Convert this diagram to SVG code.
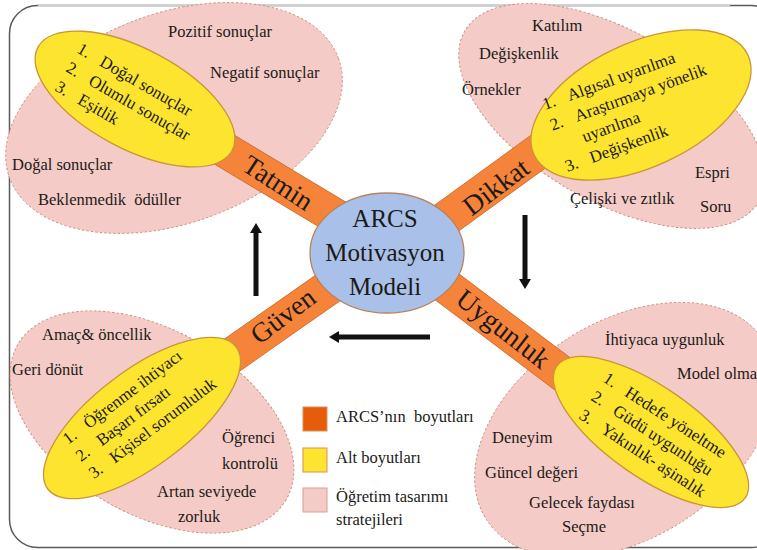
<svg xmlns="http://www.w3.org/2000/svg" width="757" height="550" viewBox="0 0 757 550">
<style>
text{font-family:"Liberation Serif","Times New Roman",serif;fill:#1c1a17}
.pink{fill:#f4cbc7;stroke:#c8907e;stroke-width:0.9;stroke-dasharray:2.5 2}
.yel{fill:#fde52f;stroke:#c99538;stroke-width:1.3}
.band{fill:#f5843a;stroke:#c86a2a;stroke-width:0.8}
.ctr{fill:#a9c1e9;stroke:#b9825e;stroke-width:1.3}
.pt{font-size:16.5px}
.yt{font-size:17px}
.bt{font-size:27.5px;text-anchor:middle}
.ct{font-size:25px;text-anchor:middle}
.lt{font-size:16.5px}
.arr{stroke:#111;stroke-width:5;fill:none}
</style>
<defs>
<marker id="ah" viewBox="0 0 10 12" refX="1" refY="6" markerWidth="10" markerHeight="12" markerUnits="userSpaceOnUse" orient="auto">
<path d="M0,0 L10,6 L0,12 z" fill="#111"/>
</marker>
</defs>
<rect x="9.5" y="5.5" width="770" height="542" rx="28" fill="#fff" stroke="#5a5a5a" stroke-width="1.5"/>
<line x1="38" y1="5.5" x2="730" y2="5.5" stroke="#cfcfcf" stroke-width="2"/>

<g id="tatmin">
<ellipse class="pink" cx="174" cy="118" rx="175" ry="105" transform="rotate(-20 174 118)"/>
<text class="pt" x="168" y="37">Pozitif sonuçlar</text>
<text class="pt" x="210" y="78">Negatif sonuçlar</text>
<text class="pt" x="12" y="170">Doğal sonuçlar</text>
<text class="pt" x="38" y="205" xml:space="preserve">Beklenmedik  ödüller</text>
<rect class="band" x="-100" y="-17.5" width="200" height="35" rx="10" transform="translate(280 183) rotate(31)"/>
<ellipse class="yel" cx="135" cy="99" rx="110" ry="50" transform="rotate(28 135 99)"/>
<g transform="translate(76 52) rotate(30)">
<text class="yt" x="0" y="0">1.</text><text class="yt" x="26" y="0">Doğal sonuçlar</text>
<text class="yt" x="0" y="22">2.</text><text class="yt" x="26" y="22">Olumlu sonuçlar</text>
<text class="yt" x="0" y="44">3.</text><text class="yt" x="26" y="44">Eşitlik</text>
</g>
<text class="bt" transform="translate(278 183) rotate(33)" y="9">Tatmin</text>
</g>

<g id="dikkat">
<ellipse class="pink" cx="612" cy="116" rx="170" ry="85" transform="rotate(30 612 116)"/>
<text class="pt" x="532" y="31">Katılım</text>
<text class="pt" x="479" y="59">Değişkenlik</text>
<text class="pt" x="462" y="95">Örnekler</text>
<text class="pt" x="695" y="178">Espri</text>
<text class="pt" x="570" y="204">Çelişki ve zıtlık</text>
<text class="pt" x="700" y="212">Soru</text>
<rect class="band" x="-100" y="-17.5" width="200" height="35" rx="10" transform="translate(495 183) rotate(-36)"/>
<ellipse class="yel" cx="641" cy="105" rx="118" ry="62" transform="rotate(-25 641 105)"/>
<g transform="translate(545 110) rotate(-20)">
<text class="yt" x="0" y="0">1.</text><text class="yt" x="26" y="0">Algısal uyarılma</text>
<text class="yt" x="0" y="22">2.</text><text class="yt" x="26" y="22">Araştırmaya yönelik</text>
<text class="yt" x="26" y="44">uyarılma</text>
<text class="yt" x="0" y="66">3.</text><text class="yt" x="26" y="66">Değişkenlik</text>
</g>
<text class="bt" transform="translate(496 187) rotate(-37)" y="9">Dikkat</text>
</g>

<g id="guven">
<ellipse class="pink" cx="152" cy="422" rx="155" ry="92" transform="rotate(30 152 422)"/>
<text class="pt" x="42" y="340">Amaç&amp; öncellik</text>
<text class="pt" x="12" y="375">Geri dönüt</text>
<text class="pt" x="222" y="443">Öğrenci</text>
<text class="pt" x="222" y="469">kontrolü</text>
<text class="pt" x="157" y="497">Artan seviyede</text>
<text class="pt" x="178" y="522">zorluk</text>
<rect class="band" x="-100" y="-17.5" width="200" height="35" rx="10" transform="translate(285 318) rotate(-35)"/>
<ellipse class="yel" cx="142" cy="418" rx="118" ry="48" transform="rotate(-37 142 418)"/>
<g transform="translate(68 445) rotate(-37)">
<text class="yt" x="0" y="0">1.</text><text class="yt" x="26" y="0">Öğrenme ihtiyacı</text>
<text class="yt" x="0" y="21.5">2.</text><text class="yt" x="26" y="21.5">Başarı fırsatı</text>
<text class="yt" x="0" y="43">3.</text><text class="yt" x="26" y="43">Kişisel sorumluluk</text>
</g>
<text class="bt" transform="translate(283 316) rotate(-37)" y="9">Güven</text>
</g>

<g id="uygunluk">
<ellipse class="pink" cx="625" cy="430" rx="165" ry="108" transform="rotate(-33 625 430)"/>
<text class="pt" x="605" y="345">İhtiyaca uygunluk</text>
<text class="pt" x="677" y="379">Model olma</text>
<text class="pt" x="492" y="443">Deneyim</text>
<text class="pt" x="485" y="478">Güncel değeri</text>
<text class="pt" x="529" y="508">Gelecek faydası</text>
<text class="pt" x="562" y="532">Seçme</text>
<rect class="band" x="-100" y="-17.5" width="200" height="35" rx="10" transform="translate(503 329) rotate(37)"/>
<ellipse class="yel" cx="651" cy="432" rx="115" ry="45" transform="rotate(35 651 432)"/>
<g transform="translate(602 381) rotate(33)">
<text class="yt" x="0" y="0">1.</text><text class="yt" x="26" y="0">Hedefe yöneltme</text>
<text class="yt" x="0" y="22">2.</text><text class="yt" x="26" y="22">Güdü uygunluğu</text>
<text class="yt" x="0" y="44">3.</text><text class="yt" x="26" y="44">Yakınlık- aşinalık</text>
</g>
<text class="bt" transform="translate(503 329) rotate(38)" y="9">Uygunluk</text>
</g>

<g id="arcs">
<ellipse class="ctr" cx="387" cy="253" rx="77" ry="60"/>
<text class="ct" x="385" y="227">ARCS</text>
<text class="ct" x="385" y="261">Motivasyon</text>
<text class="ct" x="385" y="295">Modeli</text>
</g>

<g id="connectors">
<line class="arr" x1="256" y1="296" x2="256" y2="232" marker-end="url(#ah)"/>
<line class="arr" x1="525" y1="215" x2="525" y2="280" marker-end="url(#ah)"/>
<line class="arr" x1="430" y1="337" x2="338" y2="337" marker-end="url(#ah)"/>
</g>

<g id="legend">
<rect x="303" y="407" width="24" height="24" fill="#e65c0a" stroke="#d8905a" stroke-width="1"/>
<text class="lt" x="336" y="422" xml:space="preserve">ARCS’nın  boyutları</text>
<rect x="303" y="448" width="24" height="24" fill="#fde52f" stroke="#d8905a" stroke-width="1"/>
<text class="lt" x="336" y="463">Alt boyutları</text>
<rect x="303" y="488" width="24" height="24" fill="#f4cbc7" stroke="#d8a090" stroke-width="1"/>
<text class="lt" x="336" y="502">Öğretim tasarımı</text>
<text class="lt" x="336" y="525">stratejileri</text>
</g>
</svg>
